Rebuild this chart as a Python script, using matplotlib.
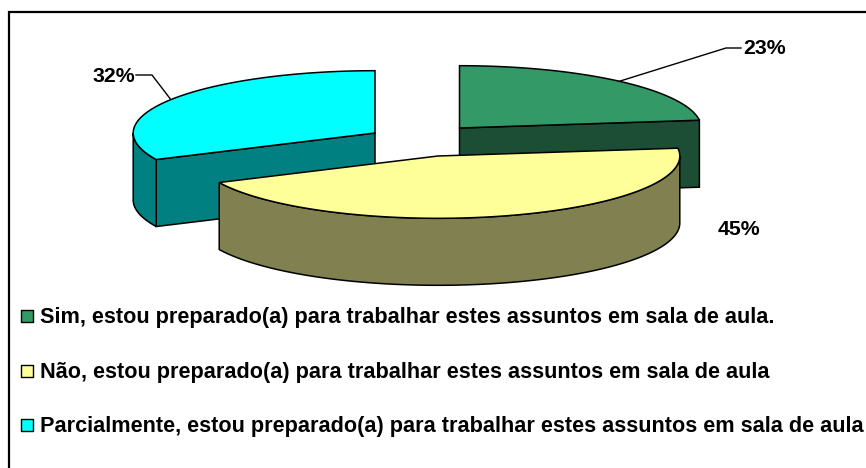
import numpy as np
import matplotlib
matplotlib.use("Agg")
import matplotlib.pyplot as plt
from matplotlib.patches import Polygon

plt.rcParams['font.family'] = ['Liberation Sans', 'DejaVu Sans']

# dados
categorias = [
    "Sim, estou preparado(a) para trabalhar estes assuntos em sala de aula.",
    "Não, estou preparado(a) para trabalhar estes assuntos em sala de aula",
    "Parcialmente, estou preparado(a) para trabalhar estes assuntos em sala de aula",
]
valores = [23, 45, 32]

cores_topo = ["#339966", "#FFFF99", "#00FFFF"]
cores_lado = ["#1C4E36", "#808050", "#008080"]

# geometria do pie 3D (pixels)
centros = [(459.5, 128), (438, 156), (375, 133)]
RX, RY, PROF = 241.8, 62.3, 67
ordem = [2, 0, 1]  # ciano e verde atras, amarelo na frente


def ponto(c, ang, dy=0):
    a = np.radians(ang)
    return np.column_stack((c[0] + RX * np.sin(a), c[1] - RY * np.cos(a) + dy))


def face_radial(c, ang, cor, z):
    p = ponto(c, np.array([ang]))[0]
    q = [c, p, (p[0], p[1] + PROF), (c[0], c[1] + PROF)]
    ax.add_patch(Polygon(q, fc=cor, ec="black", lw=1.1, zorder=z))


fig = plt.figure(figsize=(8.66, 4.68), dpi=100)
ax = fig.add_axes([0, 0, 1, 1])
ax.set_xlim(0, 866)
ax.set_ylim(468, 0)
ax.axis("off")

# moldura (sem lado direito nem base, como no original)
ax.plot([9, 9, 866], [468, 12, 12], color="black", lw=1.6, solid_joinstyle="miter")

limites = np.cumsum([0] + valores) * 3.6
for z, i in enumerate(ordem):
    c = centros[i]
    ini, fim = limites[i], limites[i + 1]
    z = z + 2

    # faces radiais voltadas para a frente
    if fim < 180:
        face_radial(c, fim, cores_lado[i], z)
    if ini > 180:
        face_radial(c, ini, cores_lado[i], z)

    # borda externa visivel (parte frontal)
    a0, a1 = max(ini, 90), min(fim, 270)
    if a1 > a0:
        arco = np.linspace(a0, a1, 120)
        cima = ponto(c, arco)
        baixo = ponto(c, arco[::-1], PROF)
        ax.add_patch(Polygon(np.vstack((cima, baixo)), fc=cores_lado[i], ec="black", lw=1.1, zorder=z))

    # topo
    topo = np.vstack(([c], ponto(c, np.linspace(ini, fim, 120))))
    ax.add_patch(Polygon(topo, fc=cores_topo[i], ec="black", lw=1.1, zorder=z))

# rotulos
tam_rotulo = 15.3

meio = (limites[0] + limites[1]) / 2
p = ponto(centros[0], np.array([meio]))[0]
ax.plot([p[0], 726, 741], [p[1], 48, 48], color="black", lw=1, zorder=1)
ax.text(743, 49, f"{valores[0]}%", fontsize=tam_rotulo, fontweight="bold", ha="left", va="center")

ax.text(738.5, 229.5, f"{valores[1]}%", fontsize=tam_rotulo, fontweight="bold", ha="center", va="center")

meio = (limites[2] + limites[3]) / 2
p = ponto(centros[2], np.array([meio]))[0]
ax.plot([p[0], 152, 136], [p[1], 75, 75], color="black", lw=1, zorder=1)
ax.text(135, 76, f"{valores[2]}%", fontsize=tam_rotulo, fontweight="bold", ha="right", va="center")

# legenda
base_y = [323, 378, 432]
for nome, cor, y in zip(categorias, cores_topo, base_y):
    ax.scatter([27], [y - 7], marker="s", s=80, fc=cor, ec="black", lw=1)
    ax.text(40, y, nome, fontsize=15.55, fontweight="bold", ha="left", va="baseline", color="black")

fig.savefig("out.png", dpi=100)
